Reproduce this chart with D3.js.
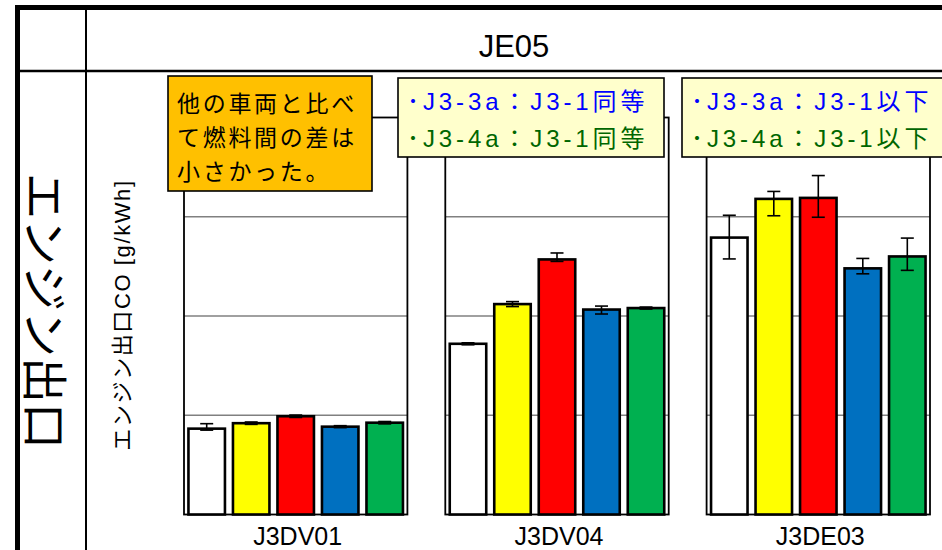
<!DOCTYPE html>
<html>
<head>
<meta charset="utf-8">
<script src="https://cdn.jsdelivr.net/npm/d3@7"></script>
<style>
  html, body { margin: 0; padding: 0; background: #fff; }
  svg { display: block; }
</style>
</head>
<body>
<svg id="chart" width="942" height="550"></svg>
<script>
// ---- data ----
const engines = ["J3DV01", "J3DV04", "J3DE03"];
const fuels = ["F1", "F2", "F3", "F4", "F5"];
const fuelColors = ["#FFFFFF", "#FFFF00", "#FF0000", "#0070C0", "#00B050"];

// engine-out CO, one row per engine, one column per fuel
const coValues = [
  [0.865, 0.92, 0.99, 0.885, 0.925],
  [1.72, 2.12, 2.57, 2.065, 2.08],
  [2.79, 3.18, 3.19, 2.48, 2.60]
];
const errUp = [
  [0.05, 0.012, 0.012, 0.01, 0.012],
  [0.01, 0.025, 0.065, 0.035, 0.01],
  [0.225, 0.075, 0.225, 0.10, 0.185]
];
const errDown = [
  [0.015, 0.012, 0.012, 0.01, 0.012],
  [0.01, 0.025, 0.02, 0.045, 0.01],
  [0.215, 0.17, 0.195, 0.055, 0.14]
];

const gridTicks = [1, 2, 3];
const yMax = 4;

const headerTitle = "JE05";
const rowTitle = "エンジン出口";
const yAxisTitle = "エンジン出口CO [g/kWh]";
const noteSummary = ["他の車両と比べ", "て燃料間の差は", "小さかった。"];
const noteDV04 = ["･J3-3a：J3-1同等", "･J3-4a：J3-1同等"];
const noteDE03 = ["･J3-3a：J3-1以下", "･J3-4a：J3-1以下"];
const noteLineColors = ["#0000FF", "#006600"];

// ---- drawing ----
const svg = d3.select("#chart");
const W = 942, H = 550;
const latin = "'Liberation Sans', Arial, 'Noto Sans CJK JP', sans-serif";
const cjk = "'Noto Sans CJK JP', 'Noto Sans CJK SC', sans-serif";

svg.append("rect").attr("width", W).attr("height", H).attr("fill", "#fff");

const y = d3.scaleLinear().domain([0, yMax]).range([514.5, 117.5]);
const xPanel = d3.scaleBand().domain(engines).range([184, 930])
  .paddingInner(0.145).paddingOuter(0);
const xBar = d3.scaleBand().domain(fuels).range([0, xPanel.bandwidth()])
  .paddingInner(0.18).paddingOuter(0.1);
const color = d3.scaleOrdinal().domain(fuels).range(fuelColors);

// table frame
const frame = svg.append("g").attr("stroke", "#000").attr("fill", "none");
frame.append("line").attr("x1", 15).attr("x2", W).attr("y1", 7.5).attr("y2", 7.5).attr("stroke-width", 5);
frame.append("line").attr("x1", 17.5).attr("x2", 17.5).attr("y1", 5).attr("y2", H).attr("stroke-width", 5);
frame.append("line").attr("x1", 86).attr("x2", 86).attr("y1", 10).attr("y2", H).attr("stroke-width", 2);
frame.append("line").attr("x1", 20).attr("x2", W).attr("y1", 71).attr("y2", 71).attr("stroke-width", 2.5);

// header and row titles
svg.append("text")
  .attr("x", (86 + W) / 2).attr("y", 57)
  .attr("text-anchor", "middle")
  .attr("font-family", latin).attr("font-size", 31)
  .text(headerTitle);

svg.append("text")
  .attr("transform", "translate(48,311) rotate(90)")
  .attr("text-anchor", "middle").attr("dominant-baseline", "central")
  .attr("font-family", cjk).attr("font-size", 46)
  .text(rowTitle);

svg.append("text")
  .attr("transform", "translate(122,315) rotate(-90)")
  .attr("text-anchor", "middle").attr("dominant-baseline", "central")
  .attr("font-family", latin).attr("font-size", 22).attr("letter-spacing", 1.6)
  .text(yAxisTitle);

// panels
const panels = svg.selectAll("g.panel")
  .data(engines.map((e, i) => ({ engine: e, idx: i })))
  .join("g").attr("class", "panel")
  .attr("transform", d => `translate(${xPanel(d.engine)},0)`);

panels.each(function (p) {
  const g = d3.select(this);
  const bw = xPanel.bandwidth();

  // horizontal gridlines
  g.selectAll("line.grid").data(gridTicks).join("line")
    .attr("class", "grid")
    .attr("x1", 0).attr("x2", bw)
    .attr("y1", d => y(d)).attr("y2", d => y(d))
    .attr("stroke", "#808080").attr("stroke-width", 1.5);

  // plot frame
  g.append("rect")
    .attr("x", 0).attr("y", y(yMax))
    .attr("width", bw).attr("height", y(0) - y(yMax))
    .attr("fill", "none").attr("stroke", "#000").attr("stroke-width", 1.8);

  const rows = fuels.map((f, j) => ({
    fuel: f,
    v: coValues[p.idx][j],
    up: errUp[p.idx][j],
    down: errDown[p.idx][j]
  }));

  // bars
  g.selectAll("rect.bar").data(rows).join("rect")
    .attr("class", "bar")
    .attr("x", d => xBar(d.fuel))
    .attr("width", xBar.bandwidth())
    .attr("y", d => y(d.v))
    .attr("height", d => y(0) - y(d.v))
    .attr("fill", d => color(d.fuel))
    .attr("stroke", "#000").attr("stroke-width", 2.6);

  // error bars
  const eb = g.selectAll("g.err").data(rows).join("g")
    .attr("class", "err")
    .attr("transform", d => `translate(${xBar(d.fuel) + xBar.bandwidth() / 2},0)`)
    .attr("stroke", "#000").attr("stroke-width", 1.6);
  eb.append("line").attr("x1", 0).attr("x2", 0)
    .attr("y1", d => y(d.v + d.up)).attr("y2", d => y(d.v - d.down));
  eb.append("line").attr("x1", -6.5).attr("x2", 6.5)
    .attr("y1", d => y(d.v + d.up)).attr("y2", d => y(d.v + d.up));
  eb.append("line").attr("x1", -6.5).attr("x2", 6.5)
    .attr("y1", d => y(d.v - d.down)).attr("y2", d => y(d.v - d.down));

  // engine label
  g.append("text")
    .attr("x", bw / 2 + 2).attr("y", 545)
    .attr("text-anchor", "middle")
    .attr("font-family", latin).attr("font-size", 25)
    .text(p.engine);
});

// annotation boxes
function noteBox(x, yTop, w, h, fill, lines, colors, fontFamily, fontSize, spacing, baselines) {
  const g = svg.append("g");
  g.append("rect").attr("x", x).attr("y", yTop).attr("width", w).attr("height", h)
    .attr("fill", fill).attr("stroke", "#000").attr("stroke-width", 1.6);
  g.selectAll("text").data(lines).join("text")
    .attr("x", x + 9)
    .attr("y", (d, i) => baselines[i])
    .attr("fill", (d, i) => colors[i % colors.length])
    .attr("font-family", fontFamily).attr("font-size", fontSize)
    .attr("letter-spacing", spacing)
    .text(d => d);
}

noteBox(168, 76, 204, 115, "#FFC000", noteSummary, ["#000"], cjk, 23, 2.7, [112, 146, 180]);
noteBox(398, 78, 266, 79, "#FFFFCC", noteDV04, noteLineColors, latin, 24, 3.9, [110, 147]);
noteBox(682, 78, 262, 79, "#FFFFCC", noteDE03, noteLineColors, latin, 24, 3.9, [110, 147]);
</script>
</body>
</html>
